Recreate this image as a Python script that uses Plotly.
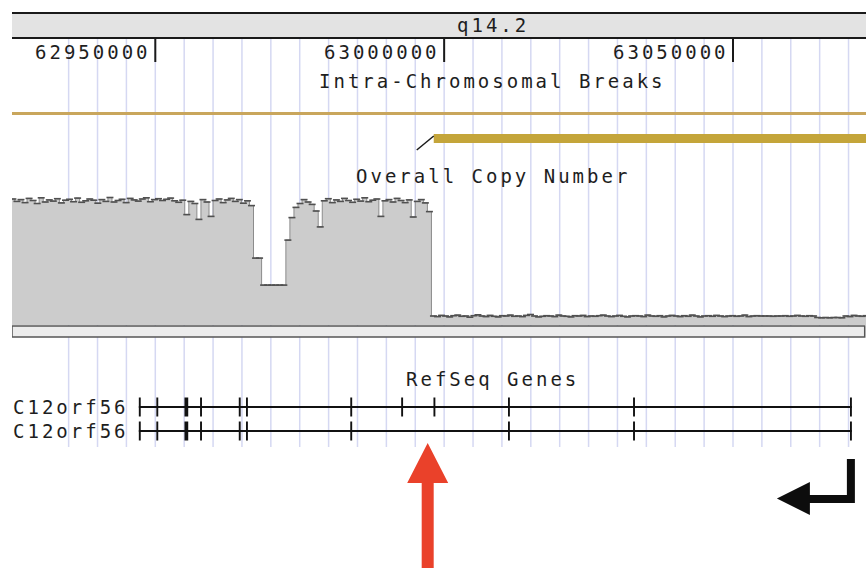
import plotly.graph_objects as go

# ---------------------------------------------------------------------------
# Genome browser view of chr12 q14.2 around the C12orf56 locus
# ---------------------------------------------------------------------------
VIEW_START = 62925195
VIEW_END = 63073022

BAND_NAME = "q14.2"
RULER_TICKS = [62950000, 63000000, 63050000]
RULER_LABELS = ["62950000", "63000000", "63050000"]
GRID_FIRST = 62935000
GRID_LAST = 63070000
GRID_STEP = 5000

# Intra-chromosomal break track: a thin span and the thick broken segment
BREAK_SPAN = (62925000, 63080000)
BREAK_SEGMENT = (62998200, 63080000)

# Overall copy number, fixed-width bins
CN_BIN_START = 62925000
CN_BIN_SIZE = 700
CN_VALUES = [
    4.20, 4.12, 4.18, 4.08, 4.22, 4.15, 4.05, 4.24, 4.10, 4.17,
    4.13, 4.21, 4.07, 4.16, 4.19, 4.11, 4.23, 4.09, 4.14, 4.20,
    4.16, 4.06, 4.18, 4.12, 4.25, 4.10, 4.15, 4.19, 4.08, 4.22,
    4.17, 4.13, 4.20, 4.24, 4.11, 4.18, 4.21, 4.15, 4.19, 4.23,
    4.14, 4.09, 4.16, 3.68, 4.12, 4.05, 3.52, 4.18, 4.10, 3.62,
    4.15, 4.20, 4.08, 4.17, 4.22, 4.12, 4.18, 4.06, 4.14, 3.98,
    2.23, 2.23,
    1.33, 1.33, 1.33, 1.33, 1.33, 1.33,
    2.83,
    3.58, 3.92, 4.05, 4.18, 4.10, 4.02, 3.80, 3.27, 4.14, 4.21, 4.08,
    4.17, 4.12, 4.22, 4.15, 4.09, 4.19, 4.13, 4.24, 4.11, 4.16,
    4.20, 3.62, 4.14, 4.18, 4.10, 4.22, 4.15, 4.08, 4.17, 3.60,
    4.12, 4.18, 4.07, 3.78,
    0.30, 0.28, 0.32, 0.30, 0.27, 0.31, 0.33, 0.29, 0.30, 0.26,
    0.31, 0.34, 0.30, 0.28, 0.32, 0.29, 0.27, 0.31, 0.30, 0.33,
    0.29, 0.30, 0.28, 0.32, 0.35, 0.30, 0.27, 0.29, 0.31, 0.30,
    0.28, 0.33, 0.30, 0.29, 0.27, 0.31, 0.30, 0.32, 0.28, 0.30,
    0.29, 0.31, 0.33, 0.30, 0.28, 0.30, 0.32, 0.29, 0.27, 0.30,
    0.31, 0.30, 0.28, 0.33, 0.30, 0.29, 0.31, 0.27, 0.30, 0.32,
    0.30, 0.28, 0.31, 0.29, 0.33, 0.30, 0.27, 0.30, 0.31, 0.29,
    0.32, 0.30, 0.28, 0.30, 0.31, 0.29, 0.30, 0.33, 0.28, 0.30,
    0.31, 0.30, 0.30, 0.30, 0.29, 0.30, 0.30, 0.31, 0.29, 0.30,
    0.32, 0.30, 0.29, 0.31, 0.30, 0.25, 0.24, 0.25, 0.24, 0.25,
    0.25, 0.24, 0.30, 0.28, 0.32, 0.30, 0.29, 0.31,
]

# RefSeq transcripts (minus strand)
GENE_NAMES = ["C12orf56", "C12orf56"]
TX_START = [62947150, 62947150]
TX_END = [63070580, 63070580]
EXON_STARTS = [
    [62947150, 62950180, 62955050, 62957750, 62964450, 62965700, 62983750,
     62992560, 62998150, 63011050, 63032700, 63070250],
    [62947150, 62950180, 62955050, 62957750, 62964450, 62965700, 62983750,
     63011050, 63032700, 63070250],
]
EXON_ENDS = [
    [62947480, 62950510, 62955700, 62958080, 62964780, 62966030, 62984080,
     62992890, 62998480, 63011380, 63033030, 63070580],
    [62947480, 62950510, 62955700, 62958080, 62964780, 62966030, 62984080,
     63011380, 63033030, 63070580],
]

BREAKPOINT_MARK = 62997150

# ---------------------------------------------------------------------------
# Styling / track rows (y axis is in screen rows, top = 0)
# ---------------------------------------------------------------------------
W, H = 866, 568
FONT = "DejaVu Sans Mono"
FONT_SIZE = 19
SPACING = 3.0
TEXT_COLOR = "#1e1e1e"
GRID_COLOR = "#d5d8f2"

ROW_BAND_TOP, ROW_BAND_BOTTOM = 13, 38
ROW_RULER_LABEL = 52
ROW_TICK_BOTTOM = 62
ROW_BREAK_TITLE = 81
ROW_BREAK_THIN = 113.5
ROW_BREAK_THICK = 138.5
ROW_CN_TITLE = 176
ROW_CN_BOTTOM, ROW_CN_TOP = 325, 175
ROW_CN_BOX = (326, 337)
ROW_GENE_TITLE = 379
ROW_GENES = [407, 431]
EXON_HALF = 9.5
ROW_GRID_BOTTOM = 447

fig = go.Figure()

# copy number histogram
cn_x = [CN_BIN_START + i * CN_BIN_SIZE for i in range(len(CN_VALUES))]
cn_x.append(CN_BIN_START + len(CN_VALUES) * CN_BIN_SIZE)
cn_y = list(CN_VALUES) + [CN_VALUES[-1]]
fig.add_trace(go.Scatter(
    x=cn_x, y=cn_y, mode="lines", xaxis="x", yaxis="y2",
    line=dict(shape="hv", color="#8c8c8c", width=1),
    fill="tozeroy", fillcolor="#cccccc", hoverinfo="skip",
))
# per-bin estimates drawn as short dashes on top of the histogram
cn_mid = [CN_BIN_START + (i + 0.5) * CN_BIN_SIZE for i in range(len(CN_VALUES))]
fig.add_trace(go.Scatter(
    x=cn_mid, y=CN_VALUES, mode="markers", xaxis="x", yaxis="y2",
    marker=dict(symbol="line-ew", size=5, line=dict(color="#505050", width=1.6)),
    hoverinfo="skip",
))

shapes = []

# light vertical guide lines every 5 kb
g = GRID_FIRST
while g <= GRID_LAST:
    shapes.append(dict(type="line", xref="x", yref="y", x0=g, x1=g,
                       y0=ROW_BAND_BOTTOM, y1=ROW_GRID_BOTTOM, layer="below",
                       line=dict(color=GRID_COLOR, width=1.5)))
    g += GRID_STEP

# chromosome band header
shapes.append(dict(type="rect", xref="x", yref="y", x0=VIEW_START, x1=VIEW_END + 5000,
                   y0=ROW_BAND_TOP, y1=ROW_BAND_BOTTOM, fillcolor="#e3e3e3",
                   line=dict(width=0), layer="above"))
for r in (ROW_BAND_TOP, ROW_BAND_BOTTOM):
    shapes.append(dict(type="line", xref="x", yref="y", x0=VIEW_START, x1=VIEW_END + 5000,
                       y0=r, y1=r, line=dict(color="#1a1a1a", width=2), layer="above"))

# ruler ticks
for t in RULER_TICKS:
    shapes.append(dict(type="line", xref="x", yref="y", x0=t, x1=t,
                       y0=ROW_BAND_BOTTOM, y1=ROW_TICK_BOTTOM,
                       line=dict(color="#1a1a1a", width=2), layer="above"))

# intra-chromosomal breaks
shapes.append(dict(type="line", xref="x", yref="y", x0=BREAK_SPAN[0], x1=BREAK_SPAN[1],
                   y0=ROW_BREAK_THIN, y1=ROW_BREAK_THIN,
                   line=dict(color="#c9a65c", width=3), layer="above"))
shapes.append(dict(type="line", xref="x", yref="y", x0=BREAK_SEGMENT[0], x1=BREAK_SEGMENT[1],
                   y0=ROW_BREAK_THICK, y1=ROW_BREAK_THICK,
                   line=dict(color="#c4a53a", width=9), layer="above"))
shapes.append(dict(type="line", xref="x", yref="y", xsizemode="pixel",
                   xanchor=BREAK_SEGMENT[0], x0=-17, x1=0, y0=150, y1=136,
                   line=dict(color="#1a1a1a", width=1.5), layer="above"))

# box under the copy number track
shapes.append(dict(type="rect", xref="x", yref="y", x0=VIEW_START, x1=63072800,
                   y0=ROW_CN_BOX[0], y1=ROW_CN_BOX[1], fillcolor="#ececec",
                   line=dict(color="#555555", width=1.5), layer="above"))

# gene models
for row, s, e, es, ee in zip(ROW_GENES, TX_START, TX_END, EXON_STARTS, EXON_ENDS):
    shapes.append(dict(type="line", xref="x", yref="y", x0=s, x1=e, y0=row, y1=row,
                       line=dict(color="#111111", width=2), layer="above"))
    for a, b in zip(es, ee):
        shapes.append(dict(type="rect", xref="x", yref="y", x0=a, x1=b,
                           y0=row - EXON_HALF, y1=row + EXON_HALF,
                           fillcolor="#111111", line=dict(width=0), layer="above"))

# strand / transcription start arrow at the 5' end of the gene
shapes.append(dict(
    type="path", xref="x", yref="y", xsizemode="pixel", xanchor=TX_END[0],
    path="M 3,459 L 3,503 L -42,503 L -42,515 L -75,498.5 L -42,482 L -42,495 L -5,495 L -5,459 Z",
    fillcolor="#0d0d0d", line=dict(width=0), layer="above"))

# breakpoint pointer
shapes.append(dict(
    type="path", xref="x", yref="y", xsizemode="pixel", xanchor=BREAKPOINT_MARK,
    path="M -6,570 L -6,483 L -20.5,483 L 0,443 L 20.5,483 L 6,483 L 6,570 Z",
    fillcolor="#ea412a", line=dict(width=0), layer="above"))


def label(text, x, y, xref="x", xanchor="center", xshift=0):
    return dict(
        text=f'<span style="letter-spacing:{SPACING}px">{text}</span>',
        x=x, y=y, xref=xref, yref="y", xanchor=xanchor, yanchor="middle",
        xshift=xshift, showarrow=False,
        font=dict(family=FONT, size=FONT_SIZE, color=TEXT_COLOR),
    )


CENTER = 491 / W
annotations = [label(BAND_NAME, CENTER, 25, xref="paper", xshift=1.5)]
for t, lab in zip(RULER_TICKS, RULER_LABELS):
    annotations.append(label(lab, t, ROW_RULER_LABEL, xanchor="right", xshift=-2))
annotations.append(label("Intra-Chromosomal Breaks", CENTER, ROW_BREAK_TITLE, xref="paper", xshift=1.5))
annotations.append(label("Overall Copy Number", CENTER, ROW_CN_TITLE, xref="paper", xshift=1.5))
annotations.append(label("RefSeq Genes", CENTER, ROW_GENE_TITLE, xref="paper", xshift=1.5))
for row, name in zip(ROW_GENES, GENE_NAMES):
    annotations.append(label(name, 128 / W, row, xref="paper", xanchor="right", xshift=3))

fig.update_layout(
    width=W, height=H, margin=dict(l=0, r=0, t=0, b=0),
    paper_bgcolor="white", plot_bgcolor="rgba(0,0,0,0)", showlegend=False,
    xaxis=dict(domain=[12 / W, 1], range=[VIEW_START, VIEW_END], visible=False, fixedrange=True),
    yaxis=dict(domain=[0, 1], range=[H, 0], visible=False, fixedrange=True),
    yaxis2=dict(domain=[1 - ROW_CN_BOTTOM / H, 1 - ROW_CN_TOP / H], range=[0, 5],
                anchor="x", visible=False, fixedrange=True),
    shapes=shapes, annotations=annotations,
)

fig.write_html("out.html")
